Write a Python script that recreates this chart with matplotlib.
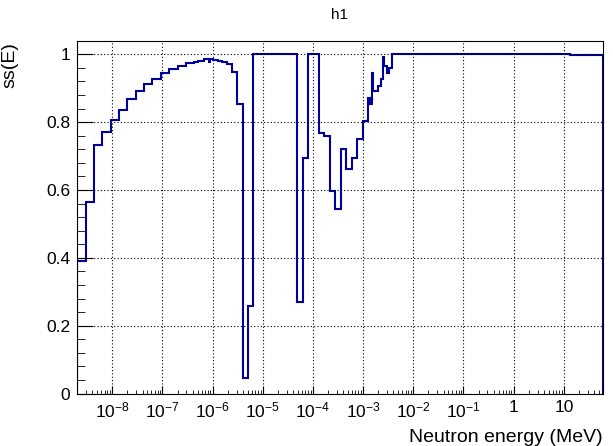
import numpy as np
import matplotlib
matplotlib.use('Agg')
import matplotlib.pyplot as plt
from matplotlib.ticker import LogLocator, FixedLocator, FuncFormatter, MultipleLocator, NullFormatter

plt.rcParams['font.family'] = ['Liberation Sans', 'DejaVu Sans']
plt.rcParams['mathtext.fontset'] = 'custom'
plt.rcParams['mathtext.rm'] = 'Liberation Sans'
plt.rcParams['mathtext.it'] = 'Liberation Sans'
plt.rcParams['mathtext.default'] = 'regular'

# bin edges as log10(E / MeV)
log_edges = [-8.700, -8.533, -8.367, -8.200, -8.033, -7.867, -7.700, -7.533,
             -7.367, -7.200, -7.033, -6.867, -6.700, -6.533, -6.367, -6.286,
             -6.172, -6.073, -6.043, -5.999, -5.887, -5.819, -5.720, -5.620,
             -5.520, -5.401, -5.289, -5.190, -4.325, -4.205, -4.105, -3.886,
             -3.776, -3.667, -3.555, -3.447, -3.342, -3.228, -3.122, -3.013,
             -2.909, -2.863, -2.818, -2.794, -2.698, -2.650, -2.608, -2.580,
             -2.519, -2.479, -2.431, 1.123, 1.775]
ss = [0.390, 0.564, 0.732, 0.771, 0.805, 0.837, 0.868, 0.891,
      0.913, 0.928, 0.944, 0.956, 0.965, 0.973, 0.977, 0.981,
      0.986, 0.976, 0.986, 0.984, 0.981, 0.976, 0.970, 0.947,
      0.854, 0.047, 0.258, 1.000, 0.270, 0.693, 1.000, 0.767,
      0.758, 0.598, 0.543, 0.722, 0.663, 0.695, 0.751, 0.804,
      0.872, 0.852, 0.944, 0.891, 0.907, 0.928, 0.992, 0.966,
      0.944, 0.960, 1.000, 0.997]
decades = list(range(-8, 2))  # labelled x ticks, 1e-8 .. 10 MeV

edges = 10.0 ** np.array(log_edges)

W, H = 613, 446
fig = plt.figure(figsize=(W / 100, H / 100), dpi=100)
ax = fig.add_axes([77.2 / W, 1 - 393.5 / H, (602.7 - 77.2) / W, (393.5 - 41) / H])

ax.stairs(ss, edges, baseline=0, color='#00009c', lw=1.5)

ax.set_xscale('log')
ax.set_xlim(edges[0], edges[-1])
ax.set_ylim(0, 1.039)

ax.xaxis.set_major_locator(FixedLocator(10.0 ** np.array(decades)))
ax.xaxis.set_minor_locator(LogLocator(base=10, subs=np.arange(2, 10), numticks=20))
ax.xaxis.set_minor_formatter(NullFormatter())

def elabel(v, pos):
    e = int(round(np.log10(v)))
    if e < 0:
        return r'$10^{%d}$' % e
    return '%d' % round(10 ** e)

ax.xaxis.set_major_formatter(FuncFormatter(elabel))
ax.yaxis.set_major_locator(MultipleLocator(0.2))
ax.yaxis.set_minor_locator(MultipleLocator(0.04))
ax.yaxis.set_major_formatter(FuncFormatter(lambda v, p: '%g' % round(v, 2)))

ax.tick_params(axis='both', which='both', direction='in', labelsize=12.5,
               top=False, right=False)
ax.tick_params(axis='x', which='major', length=6, pad=5)
ax.tick_params(axis='x', which='minor', length=3)
ax.tick_params(axis='y', which='major', length=11.5, pad=5)
ax.tick_params(axis='y', which='minor', length=5.8)

ax.grid(True, which='major', color='black', linestyle=(0, (1, 2)), lw=0.8)
for s in ax.spines.values():
    s.set_linewidth(0.8)

fig.text(602.7 / W, 1 - 442 / H, 'Neutron energy (MeV)', ha='right', va='baseline', fontsize=14)
fig.text(10 / W, 1 - 42 / H, 'ss(E)', ha='center', va='top', rotation=90, fontsize=14)
fig.text(340 / W, 1 - 15 / H, 'h1', ha='center', va='center', fontsize=11)

fig.savefig('out.png', dpi=100)
